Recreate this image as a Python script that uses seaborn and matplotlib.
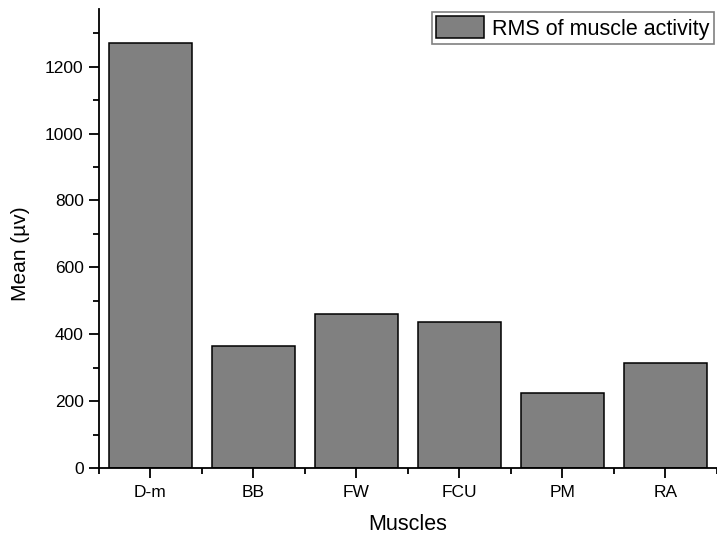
import pandas as pd
import numpy as np
import matplotlib
matplotlib.use("Agg")
import matplotlib.pyplot as plt
from matplotlib.ticker import MultipleLocator
import seaborn as sns

# values
muscles = ['D-m', 'BB', 'FW', 'FCU', 'PM', 'RA']
rms_mean = [1270, 365, 462, 438, 225, 314]

df = pd.DataFrame({'Muscles': muscles, 'Mean': rms_mean})

sns.set_style('ticks')
plt.rcParams['font.family'] = ['Liberation Sans', 'DejaVu Sans']
plt.rcParams['text.color'] = 'black'
plt.rcParams['axes.labelcolor'] = 'black'

fig = plt.figure(figsize=(7.17, 5.35), dpi=100)
ax = fig.add_axes([0.138, 0.125, 0.862, 0.858])

sns.barplot(data=df, x='Muscles', y='Mean', color='#808080', saturation=1,
            edgecolor='black', linewidth=1.1, width=0.8, ax=ax,
            label='RMS of muscle activity')

ax.set_xlim(-0.5, 5.5)
ax.set_ylim(0, 1372)
ax.yaxis.set_major_locator(MultipleLocator(200))
ax.yaxis.set_minor_locator(MultipleLocator(100))
ax.set_xticks(np.arange(-0.5, 6, 1), minor=True)

ax.spines['top'].set_visible(False)
ax.spines['right'].set_visible(False)
for s in ['left', 'bottom']:
    ax.spines[s].set_linewidth(1.3)
    ax.spines[s].set_color('black')
ax.tick_params(which='major', direction='out', length=7, width=1.3, labelsize=12.5,
               colors='black', pad=4)
ax.tick_params(which='minor', direction='out', length=4, width=1.3, colors='black')
ax.tick_params(axis='x', which='major', pad=5)

ax.set_xlabel('Muscles', fontsize=15.5, labelpad=10)
ax.set_ylabel('Mean (µv)', fontsize=15)
ax.yaxis.set_label_coords(-0.112, 0.468)

leg = ax.legend(loc='upper left', bbox_to_anchor=(432 / 717, 1 - 12 / 535),
                bbox_transform=fig.transFigure, fontsize=15.5, frameon=True,
                fancybox=False, edgecolor='#808080', framealpha=1,
                borderpad=0.2, handlelength=2.2, handleheight=1.2,
                handletextpad=0.4, borderaxespad=0)
leg.get_frame().set_linewidth(1.2)

fig.savefig('out.png', dpi=100)
